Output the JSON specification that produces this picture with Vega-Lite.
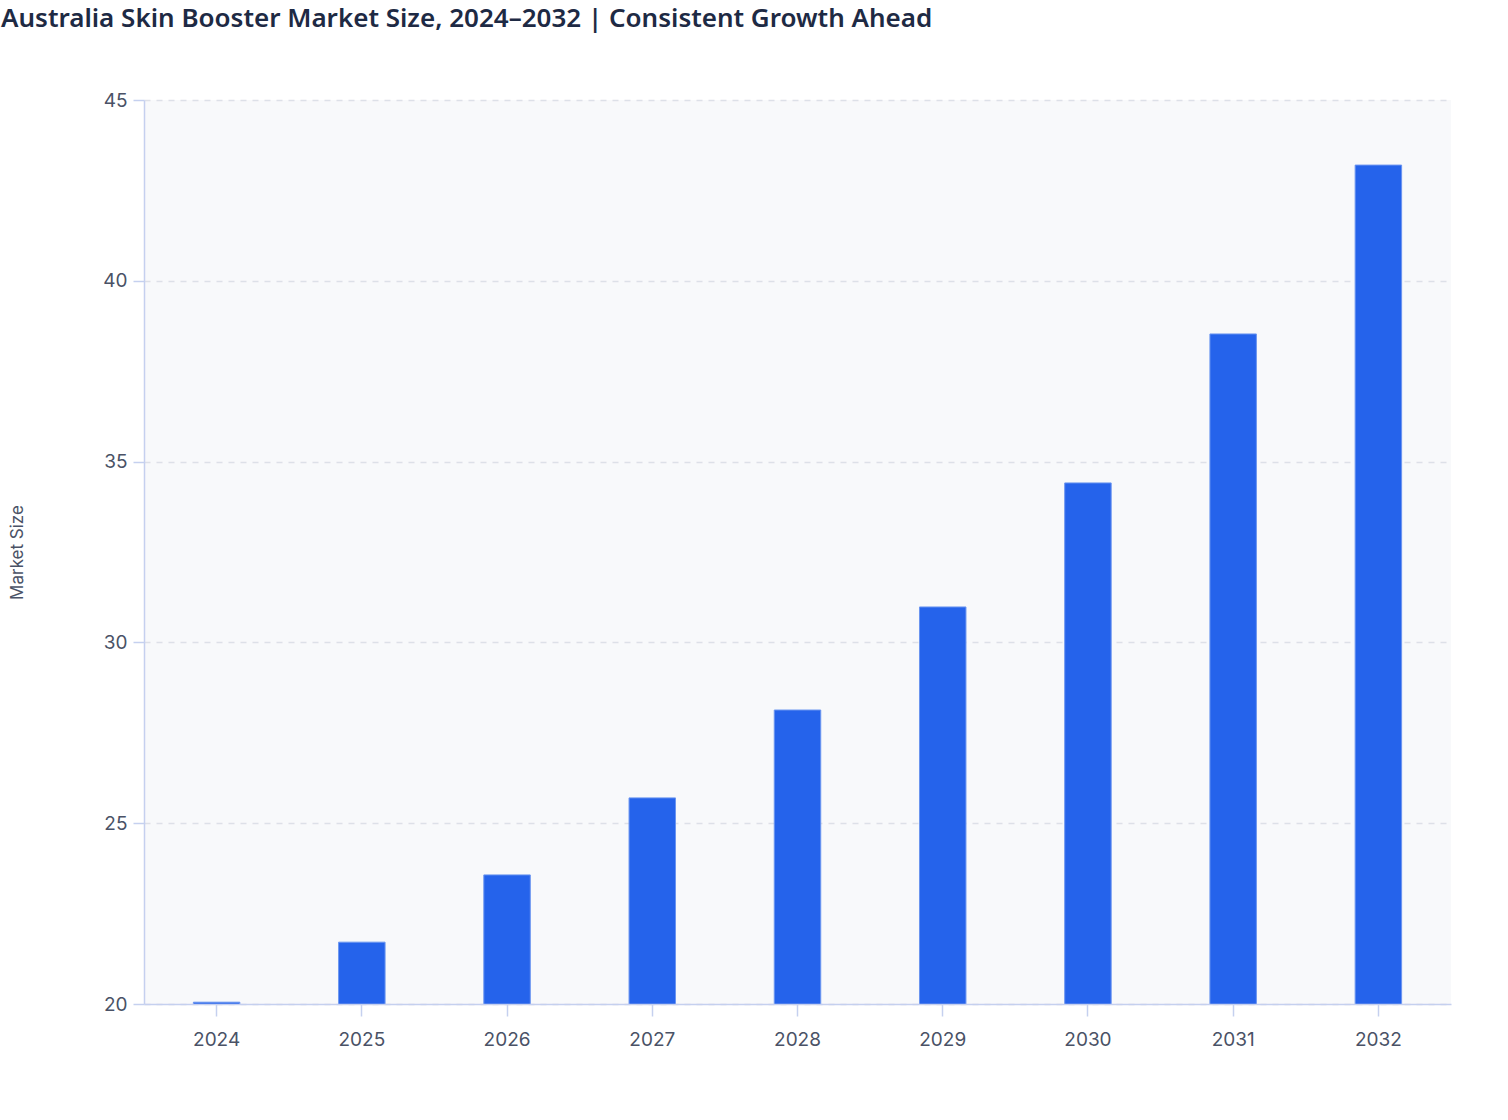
{
  "$schema": "https://vega.github.io/schema/vega-lite/v6.json",
  "autosize": "none",
  "width": 1307,
  "height": 904,
  "padding": {"left": 144, "top": 100, "right": 57, "bottom": 116},
  "background": "#ffffff",
  "title": {
    "text": "Australia Skin Booster Market Size, 2024–2032 | Consistent Growth Ahead",
    "anchor": "start",
    "frame": "group",
    "dx": -143,
    "offset": 59,
    "font": "Noto Sans",
    "fontSize": 26,
    "fontWeight": 600,
    "color": "#1e2a44"
  },
  "data": {
    "values": [
      {"year": "2024", "size": 20.05},
      {"year": "2025", "size": 21.71},
      {"year": "2026", "size": 23.57},
      {"year": "2027", "size": 25.7},
      {"year": "2028", "size": 28.13},
      {"year": "2029", "size": 30.98},
      {"year": "2030", "size": 34.41},
      {"year": "2031", "size": 38.53},
      {"year": "2032", "size": 43.2}
    ]
  },
  "mark": {"type": "bar", "color": "#2563eb", "stroke": "#6b95f0", "strokeWidth": 1, "clip": true},
  "encoding": {
    "x": {
      "field": "year",
      "type": "ordinal",
      "title": null,
      "scale": {"paddingInner": 0.68, "paddingOuter": 0.34},
      "axis": {"labelAngle": 0, "tickSize": 12, "labelPadding": 14, "zindex": 1}
    },
    "y": {
      "field": "size",
      "type": "quantitative",
      "title": "Market Size",
      "scale": {"domain": [20, 45], "zero": false, "nice": false},
      "axis": {
        "values": [20, 25, 30, 35, 40, 45],
        "grid": true,
        "tickSize": 11,
        "labelPadding": 6,
        "titlePadding": 76
      }
    }
  },
  "config": {
    "view": {"fill": "#f8f9fb", "stroke": null},
    "axis": {
      "domainColor": "#c5d0ef",
      "domainWidth": 1.5,
      "tickColor": "#c5d0ef",
      "tickWidth": 1.5,
      "gridColor": "#dde0e8",
      "gridDash": [6, 6],
      "gridWidth": 1.5,
      "labelFont": "Inter",
      "labelFontSize": 19,
      "labelColor": "#4a5266",
      "titleFont": "Inter",
      "titleFontSize": 17,
      "titleFontWeight": "normal",
      "titleColor": "#4a5266"
    }
  }
}
